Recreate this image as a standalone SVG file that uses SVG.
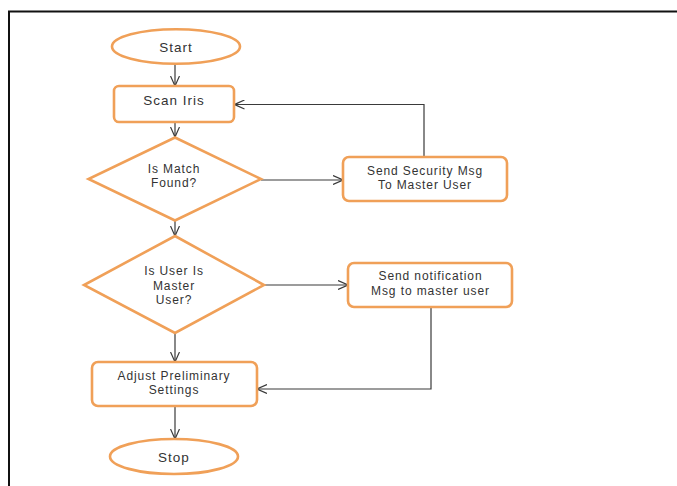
<svg xmlns="http://www.w3.org/2000/svg" width="677" height="486" viewBox="0 0 677 486">
<style>
.sh{fill:#fff;stroke:#F0A058;stroke-width:2.6}
.t{font-family:"Liberation Sans",Arial,sans-serif;font-size:12px;letter-spacing:0.9px;fill:#333;text-anchor:middle;dominant-baseline:central}
.b{font-size:13.5px;letter-spacing:1px}
.c{fill:none;stroke:#3a3a3a;stroke-width:1.2;marker-end:url(#a)}
</style>
<defs>
<marker id="a" viewBox="0 0 10 10" refX="10" refY="5" markerWidth="10" markerHeight="10" markerUnits="userSpaceOnUse" orient="auto">
<path d="M0,0.5 L10,5 L0,9.5" fill="none" stroke="#3a3a3a" stroke-width="1.2"/>
</marker>
</defs>
<rect width="677" height="486" fill="#fff"/>
<path d="M9,486 V11.5 H677" fill="none" stroke="#111" stroke-width="2"/>
<g id="connectors">
<path class="c" d="M175,64 V86"/>
<path class="c" d="M175,122 V137"/>
<path class="c" d="M261,180 H343"/>
<path class="c" d="M424,157 V104.5 H234.5"/>
<path class="c" d="M175,221 V236"/>
<path class="c" d="M264,285 H348"/>
<path class="c" d="M431,307 V389 H257"/>
<path class="c" d="M175,333 V362"/>
<path class="c" d="M175,406 V439"/>
</g>
<g id="start">
<ellipse class="sh" cx="176" cy="46.5" rx="64" ry="17.3"/>
<text class="t b" x="176" y="47">Start</text>
</g>
<g id="scan">
<rect class="sh" x="114" y="86" width="120" height="36" rx="5"/>
<text class="t b" x="174" y="100">Scan Iris</text>
</g>
<g id="match">
<polygon class="sh" points="175,137.5 261,179 175,220.5 88.5,179"/>
<text class="t" x="174" y="169">Is Match</text>
<text class="t" x="174" y="183">Found?</text>
</g>
<g id="security">
<rect class="sh" x="343" y="157" width="164" height="44" rx="6"/>
<text class="t" x="425" y="170.5">Send Security Msg</text>
<text class="t" x="425" y="184.5">To Master User</text>
</g>
<g id="master">
<polygon class="sh" points="175,236 264,285 175,333 84,285"/>
<text class="t" x="174" y="271">Is User Is</text>
<text class="t" x="174" y="285.5">Master</text>
<text class="t" x="174" y="300">User?</text>
</g>
<g id="notify">
<rect class="sh" x="348" y="263" width="164" height="44" rx="6"/>
<text class="t" x="430.5" y="276">Send notification</text>
<text class="t" x="430.5" y="291">Msg to master user</text>
</g>
<g id="adjust">
<rect class="sh" x="92" y="362" width="165" height="44" rx="6"/>
<text class="t" x="174" y="375.5">Adjust Preliminary</text>
<text class="t" x="174" y="389.5">Settings</text>
</g>
<g id="stop">
<ellipse class="sh" cx="174" cy="456.5" rx="64" ry="17.5"/>
<text class="t b" x="174" y="457">Stop</text>
</g>
</svg>
